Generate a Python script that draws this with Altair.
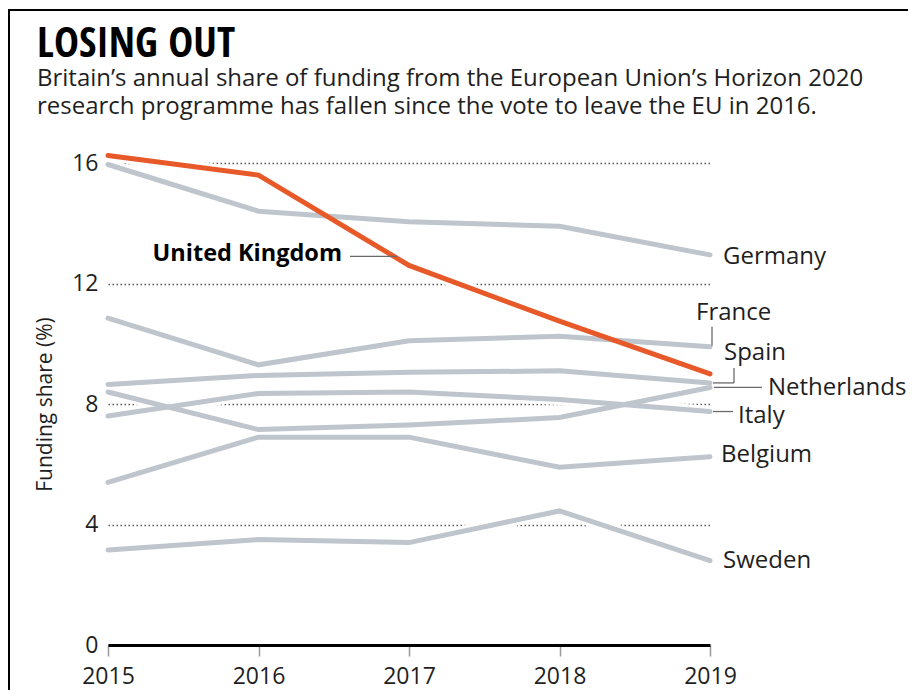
import altair as alt
import pandas as pd

# ---- data ----
years = [2015, 2016, 2017, 2018, 2019]
united_kingdom = [16.25, 15.6, 12.6, 10.75, 9.0]
germany = [15.95, 14.4, 14.05, 13.9, 12.95]
france = [10.85, 9.3, 10.1, 10.25, 9.9]
spain = [8.65, 8.95, 9.05, 9.1, 8.7]
netherlands = [8.4, 7.15, 7.3, 7.55, 8.55]
italy = [7.6, 8.35, 8.4, 8.15, 7.75]
belgium = [5.4, 6.9, 6.9, 5.9, 6.25]
sweden = [3.15, 3.5, 3.4, 4.45, 2.8]

y_ticks = [0, 4, 8, 12, 16]
title_text = "LOSING OUT"
subtitle_1 = "Britain\u2019s annual share of funding from the European Union\u2019s Horizon 2020"
subtitle_2 = "research programme has fallen since the vote to leave the EU in 2016."
y_title = "Funding share (%)"

series = {
    "United Kingdom": united_kingdom,
    "Germany": germany,
    "France": france,
    "Spain": spain,
    "Netherlands": netherlands,
    "Italy": italy,
    "Belgium": belgium,
    "Sweden": sweden,
}

rows = []
for name, vals in series.items():
    for yr, v in zip(years, vals):
        rows.append({"country": name, "year": yr, "share": v})
df = pd.DataFrame(rows)

ORANGE = "#E8592A"
GREY = "#BEC5CD"
TEXT = "#1f1f1f"
LEADER = "#6a6a6a"
FONT = "Open Sans"
NARROW = "Open Sans Condensed, DejaVu Sans Condensed, sans-serif"

W, H = 602, 482

xs = alt.Scale(domain=[2015, 2019], nice=False, zero=False)
ys = alt.Scale(domain=[0, 16], nice=False, zero=True)

base = alt.Chart(df)

X = alt.X("year:Q", scale=xs,
          axis=alt.Axis(values=years, format="d", title=None, grid=False,
                        domainColor="black", domainWidth=3,
                        tickColor="#9a9a9a", tickWidth=1.5, tickSize=11,
                        labelFontSize=23, labelFont=FONT, labelColor=TEXT,
                        labelPadding=9, labelFlush=False))
Y = alt.Y("share:Q", scale=ys,
          axis=alt.Axis(values=y_ticks, title=y_title, grid=True,
                        gridDash=[1.5, 2.5], gridColor="#555555", gridWidth=1.3,
                        domain=False, ticks=False,
                        labelFontSize=23, labelFont=FONT, labelColor=TEXT,
                        labelPadding=10,
                        titleFont=FONT, titleFontSize=21, titleFontWeight="normal",
                        titleColor=TEXT, titleX=-63, titleY=241,
                        titleAngle=270, titleAlign="center", titleBaseline="middle"))

halo = base.mark_line(color="white", strokeWidth=11, strokeCap="round").encode(
    x=X, y=Y, detail="country:N")
grey_lines = base.transform_filter(alt.datum.country != "United Kingdom").mark_line(
    color=GREY, strokeWidth=5, strokeCap="round").encode(
    x=X, y=Y, detail="country:N")
uk_line = base.transform_filter(alt.datum.country == "United Kingdom").mark_line(
    color=ORANGE, strokeWidth=5, strokeCap="round").encode(x=X, y=Y)


def end_label(name, dx, dy, year=2019, align="left", bold=False):
    return base.transform_filter(
        (alt.datum.country == name) & (alt.datum.year == year)
    ).mark_text(align=align, baseline="middle", dx=dx, dy=dy, font=FONT,
                fontSize=24 if not bold else 23.5,
                fontWeight="bold" if bold else "normal",
                color="black" if bold else TEXT).encode(
        x=X, y=Y, text="country:N")


def hleader(name, x0, x1, dy, year=2019):
    return base.transform_filter(
        (alt.datum.country == name) & (alt.datum.year == year)
    ).mark_rule(color=LEADER, strokeWidth=1.3, xOffset=x0, x2Offset=x1,
                yOffset=dy).encode(x=X, x2="year:Q", y=Y)


def vleader(name, dx, y0, y1, year=2019):
    return base.transform_filter(
        (alt.datum.country == name) & (alt.datum.year == year)
    ).mark_rule(color=LEADER, strokeWidth=1.3, xOffset=dx, yOffset=y0,
                y2Offset=y1).encode(x=X, y=Y, y2="share:Q")


labels = [
    end_label("Germany", 13, 2),
    end_label("France", -14, -34),
    end_label("Spain", 14, -30),
    end_label("Netherlands", 58, 1),
    end_label("Italy", 28, 4),
    end_label("Belgium", 11, -2),
    end_label("Sweden", 13, 0),
    end_label("United Kingdom", -67, -11, year=2017, align="right", bold=True),
]
leaders = [
    vleader("France", 2, -20, -1),
    vleader("Spain", 24, -15, 0),
    hleader("Spain", 3, 24, 0),
    hleader("Netherlands", 4, 52, 0),
    hleader("Italy", 3, 23, 0),
    hleader("United Kingdom", -59, -12, -9, year=2017),
]

one = pd.DataFrame({"t": [title_text], "s1": [subtitle_1], "s2": [subtitle_2]})
tbase = alt.Chart(one)
title = tbase.mark_text(align="left", baseline="alphabetic", font=NARROW,
                        fontSize=42, fontWeight="bold", color="black").encode(
    text="t:N", x=alt.value(-71), y=alt.value(-106))
sub1 = tbase.mark_text(align="left", baseline="alphabetic", font=FONT,
                       fontSize=24, color=TEXT).encode(
    text="s1:N", x=alt.value(-71), y=alt.value(-77))
sub2 = tbase.mark_text(align="left", baseline="alphabetic", font=FONT,
                       fontSize=24, color=TEXT).encode(
    text="s2:N", x=alt.value(-71), y=alt.value(-49))

frame_top = tbase.mark_rule(color="black", strokeWidth=2).encode(
    x=alt.value(-99), x2=alt.value(801), y=alt.value(-153))
frame_left = tbase.mark_rule(color="black", strokeWidth=2).encode(
    x=alt.value(-99), y=alt.value(-154), y2=alt.value(560))

chart = alt.layer(
    halo, grey_lines, uk_line, *leaders, *labels, title, sub1, sub2,
    frame_top, frame_left,
).properties(
    width=W, height=H,
    background="white",
    autosize=alt.AutoSizeParams(type="none"),
    padding={"left": 100, "top": 155, "right": 198, "bottom": 45},
).configure_view(strokeWidth=0, stroke="transparent")

chart.save("out.html", embed_options={"renderer": "svg", "actions": False})
